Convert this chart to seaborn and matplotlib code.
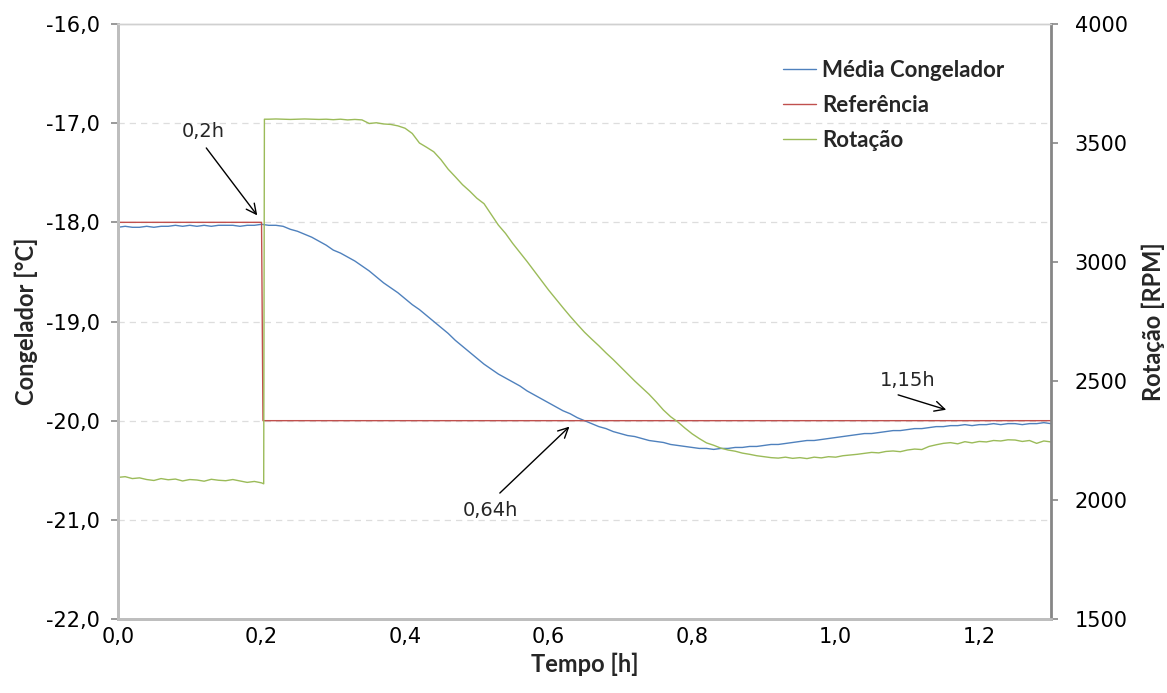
import numpy as np
import matplotlib
matplotlib.use("Agg")
import matplotlib.pyplot as plt
import seaborn as sns
from matplotlib.ticker import FuncFormatter
from matplotlib.lines import Line2D

# ---- data -------------------------------------------------------------
tempo = np.round(np.arange(0, 131) * 0.01, 2)          # time [h], 0.00 .. 1.30

media_congelador = [
    -18.05, -18.04, -18.05, -18.05, -18.04, -18.05, -18.04, -18.04, -18.03, -18.04,
    -18.03, -18.04, -18.03, -18.04, -18.03, -18.03, -18.03, -18.04, -18.03, -18.03,
    -18.02, -18.03, -18.03, -18.04, -18.07, -18.09, -18.12, -18.15, -18.19, -18.23,
    -18.28, -18.31, -18.35, -18.39, -18.44, -18.49, -18.55, -18.61, -18.66, -18.71,
    -18.77, -18.83, -18.88, -18.94, -19.00, -19.06, -19.12, -19.19, -19.25, -19.31,
    -19.37, -19.43, -19.48, -19.53, -19.57, -19.61, -19.65, -19.70, -19.74, -19.78,
    -19.82, -19.86, -19.90, -19.93, -19.97, -20.00, -20.03, -20.06, -20.08, -20.11,
    -20.13, -20.15, -20.16, -20.18, -20.20, -20.21, -20.22, -20.24, -20.25, -20.26,
    -20.27, -20.28, -20.28, -20.29, -20.28, -20.28, -20.27, -20.27, -20.26, -20.26,
    -20.25, -20.24, -20.24, -20.23, -20.22, -20.21, -20.20, -20.20, -20.19, -20.18,
    -20.17, -20.16, -20.15, -20.14, -20.13, -20.13, -20.12, -20.11, -20.10, -20.10,
    -20.09, -20.08, -20.08, -20.07, -20.06, -20.06, -20.05, -20.05, -20.04, -20.05,
    -20.04, -20.04, -20.03, -20.04, -20.03, -20.03, -20.04, -20.03, -20.03, -20.02,
    -20.03,
]

ref_tempo = [0.0, 0.200, 0.202, 1.30]
referencia = [-18.0, -18.0, -20.0, -20.0]

rot_tempo = list(tempo[:21]) + [0.203, 0.204] + list(tempo[21:])
rotacao = [
    2095, 2098, 2090, 2093, 2086, 2082, 2090, 2085, 2088, 2080,
    2086, 2084, 2079, 2087, 2083, 2081, 2086, 2080, 2074, 2078,
    2072,
    2068, 3600,
    3600, 3601, 3600, 3599, 3600, 3601, 3600, 3599, 3600, 3598,
    3600, 3597, 3599, 3597, 3582, 3585, 3580, 3578, 3572, 3562,
    3540, 3500, 3482, 3463, 3430, 3390, 3358, 3325, 3298, 3268,
    3245, 3200, 3155, 3120, 3078, 3040, 3002, 2962, 2922, 2882,
    2845, 2808, 2772, 2738, 2705, 2676, 2648, 2618, 2590, 2560,
    2530, 2500, 2472, 2444, 2412, 2378, 2350, 2328, 2302, 2278,
    2258, 2240, 2230, 2218, 2210, 2205, 2197, 2192, 2186, 2182,
    2178, 2176, 2180, 2175, 2178, 2174, 2180, 2177, 2182, 2180,
    2186, 2189, 2192, 2196, 2200, 2198, 2204, 2206, 2203, 2210,
    2214, 2212, 2225, 2232, 2238, 2241, 2236, 2245, 2240, 2246,
    2244, 2250, 2248, 2253, 2252, 2246, 2250, 2238, 2248, 2244,
]

x_ticks = [0.0, 0.2, 0.4, 0.6, 0.8, 1.0, 1.2]
temp_ticks = [-22, -21, -20, -19, -18, -17, -16]
rpm_ticks = [1500, 2000, 2500, 3000, 3500, 4000]

labels = ["Média Congelador", "Referência", "Rotação"]
colors = ["#4F81BD", "#C0504D", "#9BBB59"]

# annotations: (text, text position, arrow tail, arrow tip) in (h, °C)
notes = [
    ("0,2h", (0.119, -17.08), (0.123, -17.25), (0.194, -17.93)),
    ("0,64h", (0.519, -20.91), (0.532, -20.73), (0.629, -20.06)),
    ("1,15h", (1.101, -19.60), (1.087, -19.74), (1.154, -19.89)),
]

# ---- style ------------------------------------------------------------
sns.set_style("white")
plt.rcParams["font.family"] = ["DejaVu Sans"]
label_font = {"family": "Lato", "weight": "bold"}

fig = plt.figure(figsize=(11.67, 6.93), dpi=100)
ax = fig.add_axes([118 / 1167, 1 - 619 / 693, (1051 - 118) / 1167, (619 - 24) / 693])
ax2 = ax.twinx()

sns.lineplot(x=tempo, y=media_congelador, ax=ax, color=colors[0], lw=1.0,
             estimator=None, sort=False, legend=False)
sns.lineplot(x=ref_tempo, y=referencia, ax=ax, color=colors[1], lw=1.0,
             estimator=None, sort=False, legend=False)
sns.lineplot(x=rot_tempo, y=rotacao, ax=ax2, color=colors[2], lw=1.0,
             estimator=None, sort=False, legend=False)

# axes limits and ticks
ax.set_xlim(0, 1.3)
ax.set_ylim(-22, -16)
ax2.set_ylim(1500, 4000)
ax.set_xticks(x_ticks)
ax.set_yticks(temp_ticks)
ax2.set_yticks(rpm_ticks)
ax.xaxis.set_major_formatter(FuncFormatter(lambda v, _: f"{v:.1f}".replace(".", ",")))
ax.yaxis.set_major_formatter(FuncFormatter(lambda v, _: f"{v:.1f}".replace(".", ",")))
ax2.yaxis.set_major_formatter(FuncFormatter(lambda v, _: f"{int(v)}"))

for a in (ax, ax2):
    a.tick_params(axis="both", labelsize=15, colors="#888888", labelcolor="black",
                  length=5, width=1.2, direction="out")
ax.tick_params(axis="y", pad=8)
ax.tick_params(axis="x", pad=1)
ax2.tick_params(axis="y", pad=12)

# horizontal dashed grid on the temperature axis
ax.grid(False)
ax2.grid(False)
for t in temp_ticks[1:-1]:
    ax.axhline(t, color="#DDDDDD", lw=0.9, ls=(0, (5, 4)), zorder=0)

# spines
for a in (ax, ax2):
    a.spines["top"].set_color("#D0D0D0")
    a.spines["top"].set_linewidth(1.0)
    a.spines["left"].set_color("#BEBEBE")
    a.spines["left"].set_linewidth(2.0)
    a.spines["bottom"].set_color("#BEBEBE")
    a.spines["bottom"].set_linewidth(2.0)
    a.spines["right"].set_color("#868686")
    a.spines["right"].set_linewidth(2.0)
ax.spines["right"].set_visible(False)

# axis titles
ax.set_xlabel("Tempo [h]", fontsize=17, labelpad=4, **label_font)
ax.set_ylabel("Congelador [°C]", fontsize=17, labelpad=6, **label_font)
ax2.set_ylabel("Rotação [RPM]", fontsize=17, labelpad=10, **label_font)

# annotations
for text, tpos, tail, tip in notes:
    ax.text(tpos[0], tpos[1], text, ha="center", va="center", fontsize=14)
    ax.annotate("", xy=tip, xytext=tail,
                arrowprops=dict(arrowstyle="->", color="black", lw=1.0,
                                shrinkA=0, shrinkB=0, mutation_scale=18))

# legend combining both axes
handles = [Line2D([], [], color=c, lw=1.0) for c in colors]
leg = ax2.legend(handles, labels, loc="upper left",
                 bbox_to_anchor=(783 / 1167, 1 - 60 / 693),
                 bbox_transform=fig.transFigure, frameon=False,
                 prop={"family": "Lato", "weight": "bold", "size": 16},
                 handlelength=1.5, handletextpad=0.25, labelspacing=0.63,
                 borderpad=0, borderaxespad=0)

fig.savefig("out.png", dpi=100)
